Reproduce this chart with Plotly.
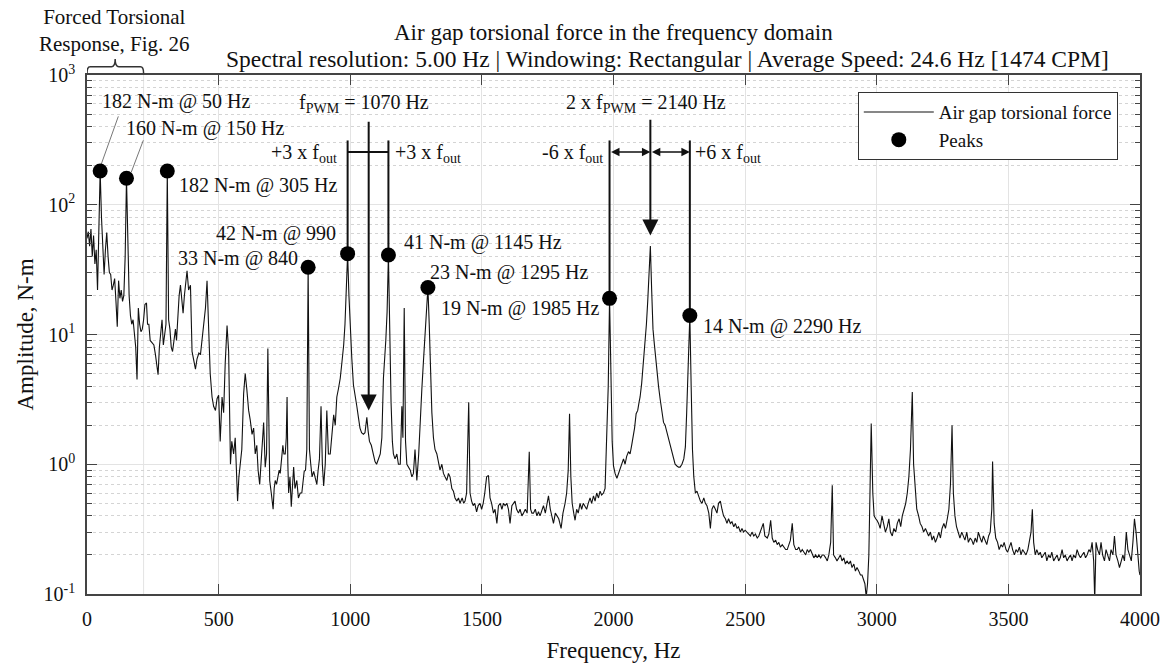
import math
import plotly.graph_objects as go

# ---------------- spectrum ----------------
f1 = [0,5,10,15,20,25,30,35,40,45,50,55,60,65,70,75,80,85,90,95,100,105,110,115,120,125,130,135,140,145,
      150,155,160,165,170,175,180,185,190,195,200,205,210,215,220,226,230,235,240,247,254,260,265,270,275,
      280,285,290,295,300,305,310,315,320,325,330,336,340,345,350,355,360,365,370,375,380,386,393,399,405,
      412,418,425,431,437,445,450,456,462,468,475,481,488,494,500]
a1 = [55,62,48,65,40,58,35,45,22,60,182,80,50,29,45,61,40,30,29,22,24,27,18,11.5,26,19,22,18,20,40,
      160,45,20,14,12,13,10,8,4.5,16,12,10.5,11,13,17,17.5,12,12,9,8.7,8.3,7,6,4.9,8,
      11,13,8.3,10,12,182,13,11,8,7.4,9,11,9,14,20,24,18,14.6,20,25,31,22,24,7.4,6.5,
      5.4,6.5,7.2,7,9,12,16,26,10,5,3.3,2.8,2.6,3.2,3.4]

f2 = [506,513,519,525,532,538,545,550,557,563,567,572,577,582,588,595,601,607,614,620,627,633,639,645,650,
      656,661,666,671,677,682,687,691,694,700,707,711,715,720,725,730,734,739,744,748,753,757,760,763,766,
      771,776,781,785,790,797,803,810,816,820,825,830,835,840,845,850,855,861,867,873,878,883,889,894,899,
      905,911,917,924,930,937,943,949,955,962,968,975,980,985,990,995]
a2 = [1.5,3.3,2.5,6,11.7,7.4,1.0,1.5,1.2,1.6,0.9,0.52,0.8,1.0,1.3,3.5,5,3.8,2.6,2.2,1.7,1.9,1.2,1.4,0.9,
      0.7,1.1,1.5,2.1,0.95,1.2,7.8,1.5,0.75,0.6,0.45,0.65,0.75,0.7,0.8,0.9,0.85,1.1,1.4,1.2,1.2,1.6,3.3,1.0,0.6,
      0.8,0.47,0.7,0.95,0.65,0.75,0.55,0.6,0.6,0.7,0.88,0.9,1.3,33,1.3,1.0,0.8,0.88,0.78,0.7,0.9,1.1,2.8,1.0,0.68,
      1.0,2.6,1.2,1.2,1.6,2.4,2.0,3.3,3.8,4.6,6,8.3,12,20,42,20]

f3 = [1000,1006,1012,1018,1025,1031,1037,1043,1050,1056,1063,1068,1073,1080,1088,1094,1100,1107,1114,1120,
      1126,1135,1140,1145,1150,1155,1160,1164,1170,1177,1183,1190,1196,1200,1205,1210,1215,1222,1228,1234,
      1240,1246,1253,1260,1266,1272,1278,1285,1290,1295,1300,1305,1310,1316,1322,1329,1335,1341,1348,1354,
      1360,1367,1373,1379,1386,1392,1398,1405,1411,1417,1425,1431,1436,1442,1450,1455,1461,1467,1473,1480,
      1486,1493,1499]
a3 = [11,6.5,4.1,3.3,2.8,2.3,1.9,1.75,1.7,1.75,2.3,1.8,1.5,1.4,1.15,1.05,1.0,1.1,1.2,1.6,
      4.6,9,15,41,8,3,1.5,1.2,1.1,1.2,1.0,1.0,2.8,1.6,16,1.5,1.0,0.95,0.9,0.8,
      0.85,1.3,0.75,1.2,2.5,3.8,6.2,10,15,23,12,5,2.5,1.6,1.3,1.2,1.0,0.9,1.0,0.85,
      0.8,0.75,0.85,0.8,0.65,0.62,0.55,0.52,0.55,0.5,0.55,0.5,0.52,0.6,3.0,0.6,0.52,0.48,0.5,0.43,
      0.48,0.5,0.45]

f4 = [1505,1511,1518,1525,1531,1537,1544,1550,1557,1563,1570,1576,1582,1588,1595,1601,1607,1614,1620,1626,
      1632,1639,1645,1652,1658,1665,1672,1680,1685,1690,1696,1703,1709,1715,1721,1728,1734,1741,1747,1753,
      1760,1766,1772,1779,1785,1792,1801,1808,1816,1822,1828,1833,1838,1843,1849,1854,1860,1866,1873,1879,
      1885,1891,1898,1904,1911,1917,1924,1930,1936,1943,1949,1955,1962,1968,1974,1980,1985,1990,1995]
a4 = [0.5,0.6,0.8,0.82,0.55,0.5,0.42,0.45,0.35,0.48,0.5,0.45,0.5,0.48,0.5,0.45,0.35,0.48,0.5,0.52,
      0.45,0.42,0.45,0.4,0.42,0.45,0.42,1.25,0.45,0.42,0.42,0.45,0.4,0.43,0.4,0.45,0.48,0.42,0.5,0.57,
      0.45,0.4,0.35,0.42,0.4,0.38,0.32,0.42,0.5,0.6,0.9,2.45,0.8,0.5,0.42,0.37,0.45,0.42,0.5,0.45,
      0.5,0.48,0.45,0.5,0.55,0.5,0.57,0.52,0.6,0.55,0.62,0.58,0.6,0.65,1.36,4,19,4,1.5]

f5 = [2000,2006,2013,2019,2025,2031,2038,2044,2050,2057,2063,2069,2075,2080,2086,2092,2097,2101,2107,2112,
      2117,2120,2125,2130,2135,2140,2145,2150,2155,2160,2165,2171,2177,2183,2190,2196,2202,2208,2215,2221,
      2228,2234,2241,2247,2253,2260,2267,2273,2278,2283,2287,2290,2295,2300,2305,2311,2317,2324,2330,2336,
      2343,2349,2355,2362,2368,2374,2380,2387,2393,2399,2406,2412,2418,2425,2431,2437,2444,2450,2457,2463,
      2469,2475,2482,2488,2494]
a5 = [0.97,0.85,0.78,0.85,0.95,1.0,1.1,1.0,1.15,1.25,1.2,1.4,1.6,1.9,2.45,2.6,3.0,3.3,4.2,5.5,
      7,8,12,18,30,48,22,11,8.5,6.5,5,4,3.2,2.6,2.1,2.0,1.8,1.6,1.4,1.25,
      1.1,1.0,0.97,0.95,0.95,1.0,1.1,1.36,2.5,5,9,14,4,1.3,0.8,0.6,0.62,0.55,0.52,0.5,
      0.55,0.5,0.48,0.42,0.32,0.45,0.48,0.45,0.42,0.5,0.52,0.45,0.4,0.38,0.35,0.38,0.35,0.36,0.33,0.35,
      0.32,0.33,0.3,0.32,0.3]

f6 = [2500,2507,2513,2520,2526,2533,2539,2546,2552,2558,2564,2569,2575,2584,2590,2597,2603,2609,2616,2622,
      2628,2634,2641,2647,2654,2660,2666,2672,2679,2685,2692,2698,2704,2711,2717,2723,2730,2736,2742,2748,
      2755,2761,2768,2774,2780,2787,2793,2799,2806,2812,2818,2825,2831,2836,2843,2849,2856,2862,2868,2875,
      2881,2887,2894,2900,2906,2913,2919,2925,2932,2938,2944,2950,2955,2960,2965,2970,2975,2979,2985,2990,
      2996]
a6 = [0.31,0.3,0.29,0.28,0.3,0.28,0.29,0.27,0.28,0.3,0.32,0.35,0.28,0.27,0.29,0.37,0.27,0.25,0.26,0.24,
      0.25,0.23,0.24,0.23,0.22,0.22,0.24,0.26,0.35,0.24,0.22,0.22,0.23,0.21,0.22,0.21,0.2,0.22,0.21,0.22,
      0.2,0.19,0.2,0.19,0.2,0.19,0.2,0.2,0.19,0.18,0.2,0.25,0.69,0.2,0.19,0.18,0.19,0.2,0.18,0.19,
      0.17,0.18,0.17,0.18,0.16,0.17,0.15,0.16,0.15,0.14,0.14,0.13,0.12,0.095,0.12,0.2,0.6,2.06,0.6,0.4,
      0.38]

f7 = [3001,3007,3013,3020,3026,3033,3040,3046,3052,3059,3065,3072,3078,3085,3091,3097,3104,3110,3116,3122,
      3128,3135,3140,3146,3152,3159,3165,3172,3178,3185,3191,3197,3204,3210,3216,3223,3229,3236,3242,3248,
      3255,3261,3268,3274,3280,3286,3291,3297,3303,3310,3316,3323,3329,3335,3342,3348,3355,3361,3367,3374,
      3380,3386,3393,3399,3405,3412,3418,3425,3431,3437,3440,3446,3452,3459,3465,3472,3478,3484,3491,3497]
a7 = [0.37,0.35,0.32,0.4,0.35,0.3,0.33,0.38,0.3,0.28,0.32,0.3,0.35,0.38,0.33,0.4,0.45,0.5,0.6,0.8,
      1.3,3.6,1.0,0.6,0.45,0.4,0.35,0.33,0.3,0.32,0.3,0.28,0.3,0.26,0.28,0.25,0.27,0.3,0.27,0.32,
      0.35,0.32,0.38,0.45,0.7,2.0,0.6,0.4,0.33,0.3,0.27,0.3,0.28,0.26,0.3,0.25,0.27,0.26,0.24,0.27,
      0.25,0.3,0.27,0.25,0.28,0.26,0.24,0.28,0.3,0.45,1.05,0.35,0.27,0.25,0.22,0.24,0.23,0.25,0.22,0.21]

f8 = [3504,3510,3516,3523,3529,3535,3542,3548,3554,3561,3567,3574,3580,3586,3591,3596,3602,3608,3615,3621,
      3627,3634,3640,3646,3653,3659,3665,3672,3678,3685,3691,3697,3704,3710,3716,3723,3729,3736,3742,3748,
      3755,3761,3768,3774,3780,3787,3793,3799,3806,3812,3818,3824,3828,3833,3839,3846,3852,3858,3865,3871,
      3877,3884,3890,3897,3903,3909,3916,3922,3929,3935,3941,3948,3954,3960,3967,3973,3979,3985,3991,3997,
      4000]
a8 = [0.23,0.25,0.22,0.2,0.22,0.21,0.23,0.2,0.22,0.21,0.2,0.22,0.25,0.3,0.45,0.25,0.2,0.22,0.2,0.21,
      0.19,0.2,0.21,0.18,0.2,0.19,0.21,0.18,0.19,0.2,0.18,0.19,0.22,0.19,0.2,0.18,0.19,0.2,0.18,0.2,
      0.19,0.22,0.2,0.19,0.2,0.21,0.19,0.2,0.22,0.21,0.25,0.18,0.09,0.25,0.22,0.2,0.25,0.2,0.18,0.22,
      0.2,0.18,0.22,0.2,0.28,0.2,0.18,0.16,0.18,0.2,0.18,0.3,0.22,0.2,0.18,0.25,0.38,0.3,0.2,0.15,
      0.14]

# ---------------- peaks ----------------
peak_freq = [50, 150, 305, 840, 990, 1145, 1295, 1985, 2290]
peak_amp = [182, 160, 182, 33, 42, 41, 23, 19, 14]

# ---------------- axis ticks / texts ----------------
x_ticks = [0, 500, 1000, 1500, 2000, 2500, 3000, 3500, 4000]
y_ticks = [0.1, 1, 10, 100, 1000]
y_ticktext = ["10<sup>-1</sup>", "10<sup>0</sup>", "10<sup>1</sup>", "10<sup>2</sup>", "10<sup>3</sup>"]
y_minor = [m * 10 ** e for e in (-1, 0, 1, 2) for m in range(2, 10)]
title_line1 = "Air gap torsional force in the frequency domain"
title_line2 = "Spectral resolution: 5.00 Hz | Windowing: Rectangular | Average Speed: 24.6 Hz [1474 CPM]"

freq_hz = f1 + f2 + f3 + f4 + f5 + f6 + f7 + f8
amp_nm = a1 + a2 + a3 + a4 + a5 + a6 + a7 + a8

FONT = "Liberation Serif"
INK = "#111111"
L = math.log10

fig = go.Figure()
fig.add_trace(go.Scatter(x=freq_hz, y=amp_nm, mode="lines", name="Air gap torsional force",
                         line=dict(color=INK, width=1.1)))

# guide lines for sideband annotations
guide_top = 313
bar_level = 255
guides = [
    ([990, 990], [guide_top, 42]),
    ([1145, 1145], [guide_top, 41]),
    ([990, 1145], [bar_level, bar_level]),
    ([1985, 1985], [guide_top, 19]),
    ([2290, 2290], [guide_top, 14]),
]
for gx, gy in guides:
    fig.add_trace(go.Scatter(x=gx, y=gy, mode="lines", showlegend=False, hoverinfo="skip",
                             line=dict(color=INK, width=2)))
# leader lines for first two labels
leaders = [([119, 54], [480, 205]), ([214, 168], [314, 178])]
for lx, ly in leaders:
    fig.add_trace(go.Scatter(x=lx, y=ly, mode="lines", showlegend=False, hoverinfo="skip",
                             line=dict(color="#777777", width=1)))

fig.add_trace(go.Scatter(x=peak_freq, y=peak_amp, mode="markers", name="Peaks",
                         marker=dict(color="black", size=15, symbol="circle")))

ann = []
lab_font = dict(family=FONT, size=20, color=INK)
labels = [
    ("182 N-m @ 50 Hz", 51, 2.797, "left"),
    ("160 N-m @ 150 Hz", 142, 2.589, "left"),
    ("182 N-m @ 305 Hz", 343, 2.15, "left"),
    ("42 N-m @ 990", 954, 1.78, "right"),
    ("33 N-m @ 840", 810, 1.588, "right"),
    ("41 N-m @ 1145 Hz", 1197, 1.711, "left"),
    ("23 N-m @ 1295 Hz", 1296, 1.48, "left"),
    ("19 N-m @ 1985 Hz", 1955, 1.203, "right"),
    ("14 N-m @ 2290 Hz", 2331, 1.059, "left"),
    ("f<sub>PWM</sub> = 1070 Hz", 1053, 2.782, "center"),
    ("2 x f<sub>PWM</sub> = 2140 Hz", 2125, 2.782, "center"),
    ("+3 x f<sub>out</sub>", 958, 2.397, "right"),
    ("+3 x f<sub>out</sub>", 1163, 2.397, "left"),
    ("-6 x f<sub>out</sub>", 1968, 2.397, "right"),
    ("+6 x f<sub>out</sub>", 2302, 2.397, "left"),
]
for t, x, y, xa in labels:
    ann.append(dict(text=t, x=x, y=y, xref="x", yref="y", xanchor=xa, yanchor="middle",
                    showarrow=False, font=lab_font))

# arrows
ann.append(dict(text="", x=1070, y=L(2.6), ax=1070, ay=L(448), xref="x", yref="y", axref="x", ayref="y",
                showarrow=True, arrowhead=2, arrowsize=1.6, arrowwidth=2, arrowcolor=INK))
ann.append(dict(text="", x=2140, y=L(58), ax=2140, ay=L(464), xref="x", yref="y", axref="x", ayref="y",
                showarrow=True, arrowhead=2, arrowsize=1.6, arrowwidth=2, arrowcolor=INK))
for xa_, xb_ in ((1985, 2140), (2140, 2290)):
    ann.append(dict(text="", x=xb_, y=L(bar_level), ax=xa_, ay=L(bar_level), xref="x", yref="y",
                    axref="x", ayref="y", showarrow=True, arrowhead=2, arrowside="end+start",
                    arrowsize=1.3, arrowwidth=1.3, arrowcolor=INK))

# brace label
ann.append(dict(text="Forced Torsional<br>Response, Fig. 26", x=104, y=1.086, xref="x", yref="paper",
                xanchor="center", yanchor="middle", showarrow=False,
                font=dict(family=FONT, size=21, color=INK)))

# title (two lines)
ann.append(dict(text=title_line1, x=0.5, y=1.0815, xref="paper", yref="paper", xanchor="center",
                yanchor="middle", showarrow=False, font=dict(family=FONT, size=23, color=INK)))
ann.append(dict(text=title_line2, x=0.5517, y=1.0315, xref="paper", yref="paper", xanchor="center",
                yanchor="middle", showarrow=False, font=dict(family=FONT, size=23.5, color=INK)))

shapes = [
    dict(type="path", xref="x", yref="paper",
         path="M 0,1.003 Q 0,1.016 12,1.016 L 93,1.016 Q 107,1.016 107,1.031 "
              "Q 107,1.016 121,1.016 L 203,1.016 Q 215,1.016 215,1.003",
         line=dict(color="#333333", width=1.5)),
    dict(type="line", xref="x", yref="paper", x0=215, x1=215, y0=0, y1=1,
         line=dict(color="#e3e3e3", width=1), layer="below"),
]

axis_line = "#444444"
fig.update_layout(
    width=1165, height=666, autosize=False,
    margin=dict(l=86.5, r=24.5, t=74.7, b=72, pad=0),
    paper_bgcolor="white", plot_bgcolor="white",
    font=dict(family=FONT, color=INK),
    xaxis=dict(range=[0, 4000], tickvals=x_ticks, ticks="inside", ticklen=10, tickcolor=axis_line,
               showline=True, linecolor=axis_line, linewidth=1.5, mirror="ticks", automargin=False,
               showgrid=True, gridcolor="#e3e3e3", gridwidth=1, zeroline=False,
               tickfont=dict(family=FONT, size=20, color=INK), ticklabelstandoff=6,
               title=dict(text="Frequency, Hz", font=dict(family=FONT, size=23, color=INK), standoff=13)),
    yaxis=dict(type="log", range=[-1, 3], tickvals=y_ticks, ticktext=y_ticktext,
               ticks="inside", ticklen=10, tickcolor=axis_line, automargin=False,
               showline=True, linecolor=axis_line, linewidth=1.5, mirror="ticks",
               showgrid=True, gridcolor="#e3e3e3", gridwidth=1, zeroline=False,
               minor=dict(tickvals=y_minor, ticks="inside", ticklen=5, tickcolor=axis_line,
                          showgrid=True, gridcolor="#d4d4d4", griddash="dot", gridwidth=1),
               tickfont=dict(family=FONT, size=20, color=INK), ticklabelstandoff=6,
               title=dict(text="Amplitude, N-m", font=dict(family=FONT, size=23, color=INK), standoff=4)),
    legend=dict(x=0.732, y=0.967, xanchor="left", yanchor="top", bgcolor="white",
                bordercolor="#333333", borderwidth=1, font=dict(family=FONT, size=19, color=INK),
                itemwidth=70, tracegroupgap=0),
    annotations=ann,
    shapes=shapes,
)

fig.write_html("out.html")
